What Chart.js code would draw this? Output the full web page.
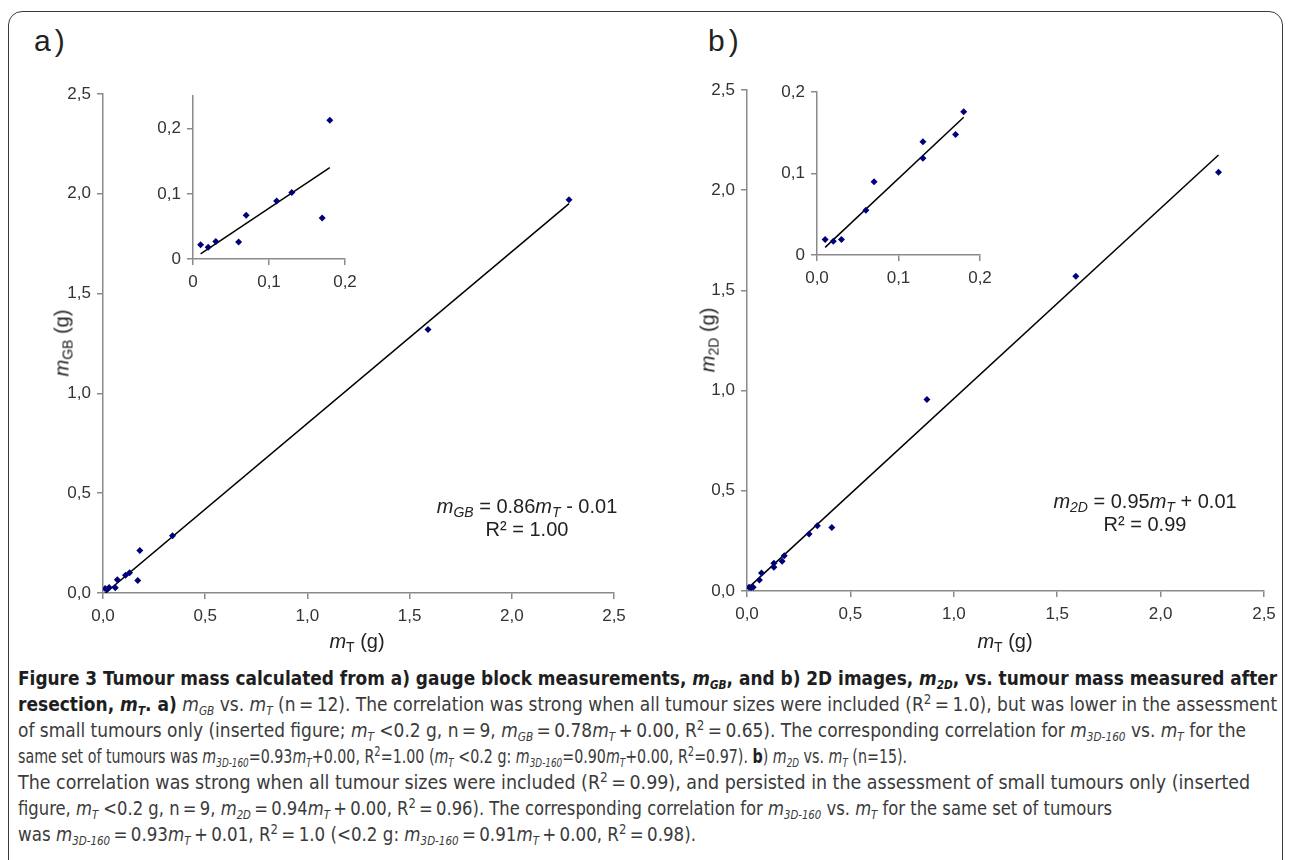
<!DOCTYPE html>
<html>
<head>
<meta charset="utf-8">
<script src="https://cdn.jsdelivr.net/npm/chart.js@4.4.1/dist/chart.umd.min.js"></script>
<style>
  body { margin: 0; width: 1290px; height: 860px; position: relative; overflow: hidden; background: #fff;
         font-family: 'Liberation Sans', Arial, sans-serif; }
  .frame { position: absolute; left: 8px; top: 11px; width: 1275px; height: 880px; box-sizing: border-box;
           border: 1.5px solid #3a3a3a; border-radius: 14px; }
  canvas { position: absolute; }
  .panel { position: absolute; font-size: 30px; color: #222; letter-spacing: 4px; }
  .xt, .yt { position: absolute; font-size: 20px; color: #222; white-space: nowrap; }
  .xt { transform: translate(-50%, -50%); }
  .yt { transform: translate(-50%, -50%) rotate(-90deg); }
  sub { font-size: 70%; vertical-align: -0.3em; line-height: 0; }
  sup { font-size: 70%; vertical-align: 0.5em; line-height: 0; }
  .eq { position: absolute; transform: translateX(-50%); text-align: center; font-size: 20px;
        line-height: 23px; color: #222; white-space: nowrap; }
  .cap { position: absolute; left: 18px; white-space: nowrap; transform-origin: 0 50%;
         font-family: 'Liberation Sans Narrow', 'DejaVu Sans Condensed', 'Liberation Sans', sans-serif;
         font-size: 20px; line-height: 26px; color: #3b3b3b; }
  .cap sub { font-size: 62%; }
  .cap b { color: #1e1e1e; }
</style>
</head>
<body>
<div class="frame"></div>

<div class="panel" style="left:34px; top:24px">a)</div>
<div class="panel" style="left:708px; top:24px">b)</div>

<canvas id="mainA" width="620" height="560" style="left:20px; top:70px"></canvas>
<canvas id="insetA" width="215" height="210" style="left:150px; top:80px"></canvas>
<canvas id="mainB" width="625" height="564" style="left:665px; top:66px"></canvas>
<canvas id="insetB" width="230" height="210" style="left:770px; top:76px"></canvas>

<div class="yt" style="left:62px; top:343px"><i>m</i><sub>GB</sub> (g)</div>
<div class="xt" style="left:357px; top:641px"><i>m</i><sub>T</sub> (g)</div>
<div class="yt" style="left:708px; top:340px"><i>m</i><sub>2D</sub> (g)</div>
<div class="xt" style="left:1005px; top:641px"><i>m</i><sub>T</sub> (g)</div>

<div class="eq" style="left:527px; top:495px">
  <div><i>m<sub>GB</sub></i> = 0.86<i>m<sub>T</sub></i> - 0.01</div>
  <div>R² = 1.00</div>
</div>
<div class="eq" style="left:1145px; top:490px">
  <div><i>m<sub>2D</sub></i> = 0.95<i>m<sub>T</sub></i> + 0.01</div>
  <div>R² = 0.99</div>
</div>

<div class="cap" data-w="1259" style="top:665px"><b>Figure 3 Tumour mass calculated from a) gauge block measurements, <i>m<sub>GB</sub></i>, and b) 2D images, <i>m<sub>2D</sub></i>, vs. tumour mass measured after</b></div>
<div class="cap" data-w="1259" style="top:691px"><b>resection, <i>m<sub>T</sub></i>. a)</b> <i>m<sub>GB</sub></i> vs. <i>m<sub>T</sub></i> (n&thinsp;=&thinsp;12). The correlation was strong when all tumour sizes were included (R<sup>2</sup>&thinsp;=&thinsp;1.0), but was lower in the assessment</div>
<div class="cap" data-w="1228" style="top:717px">of small tumours only (inserted figure; <i>m<sub>T</sub></i> &lt;0.2 g, n&thinsp;=&thinsp;9, <i>m<sub>GB</sub></i>&thinsp;=&thinsp;0.78<i>m<sub>T</sub></i>&thinsp;+&thinsp;0.00, R<sup>2</sup>&thinsp;=&thinsp;0.65). The corresponding correlation for <i>m<sub>3D-160</sub></i> vs. <i>m<sub>T</sub></i> for the</div>
<div class="cap" data-w="889" style="top:743px">same set of tumours was <i>m<sub>3D-160</sub></i>=0.93<i>m<sub>T</sub></i>+0.00, R<sup>2</sup>=1.00 (<i>m<sub>T</sub></i> &lt;0.2 g: <i>m<sub>3D-160</sub></i>=0.90<i>m<sub>T</sub></i>+0.00, R<sup>2</sup>=0.97). <b>b</b>) <i>m<sub>2D</sub></i> vs. <i>m<sub>T</sub></i> (n=15).</div>
<div class="cap" data-w="1232" style="top:769px">The correlation was strong when all tumour sizes were included (R<sup>2</sup>&thinsp;=&thinsp;0.99), and persisted in the assessment of small tumours only (inserted</div>
<div class="cap" data-w="1094" style="top:795px">figure, <i>m<sub>T</sub></i> &lt;0.2 g, n&thinsp;=&thinsp;9, <i>m<sub>2D</sub></i>&thinsp;=&thinsp;0.94<i>m<sub>T</sub></i>&thinsp;+&thinsp;0.00, R<sup>2</sup>&thinsp;=&thinsp;0.96). The corresponding correlation for <i>m<sub>3D-160</sub></i> vs. <i>m<sub>T</sub></i> for the same set of tumours</div>
<div class="cap" data-w="678" style="top:821px">was <i>m<sub>3D-160</sub></i>&thinsp;=&thinsp;0.93<i>m<sub>T</sub></i>&thinsp;+&thinsp;0.01, R<sup>2</sup>&thinsp;=&thinsp;1.0 (&lt;0.2 g: <i>m<sub>3D-160</sub></i>&thinsp;=&thinsp;0.91<i>m<sub>T</sub></i>&thinsp;+&thinsp;0.00, R<sup>2</sup>&thinsp;=&thinsp;0.98).</div>

<script>
// a) gauge block mass vs. measured tumour mass (n = 12), grams
const massA = [0.01, 0.02, 0.03, 0.06, 0.07, 0.11, 0.13, 0.17, 0.18, 0.34, 1.59, 2.28];
const gaugeBlock = [0.022, 0.018, 0.027, 0.026, 0.067, 0.089, 0.102, 0.063, 0.213, 0.287, 1.32, 1.97];

// b) 2D image mass vs. measured tumour mass (n = 15), grams
const massB = [0.01, 0.02, 0.03, 0.06, 0.07, 0.13, 0.13, 0.17, 0.18, 0.30, 0.34, 0.41, 0.87, 1.59, 2.28];
const image2D = [0.019, 0.017, 0.019, 0.055, 0.090, 0.119, 0.139, 0.148, 0.176, 0.285, 0.325, 0.317, 0.955, 1.57, 2.09];

// trend lines as printed (all tumours / small tumours < 0.2 g)
const fitA = { slope: 0.86, icpt: -0.01 };
const fitASmall = { slope: 0.78, icpt: 0.00 };
const fitB = { slope: 0.95, icpt: 0.01 };
const fitBSmall = { slope: 0.94, icpt: 0.00 };
const smallLimit = 0.2;

// axis ticks
const mainTicks = [0, 0.5, 1, 1.5, 2, 2.5];
const mainLabels = ['0,0', '0,5', '1,0', '1,5', '2,0', '2,5'];
const insetTicks = [0, 0.1, 0.2];
const insetLabels = ['0', '0,1', '0,2'];
const insetBxLabels = ['0,0', '0,1', '0,2'];

const navy = '#00007a';
const axisGrey = '#8a8a8a';
const tickFont = { family: "'Liberation Sans', Arial, sans-serif", size: 17 };

function toPoints(xs, ys, small) {
    return xs.map((x, i) => ({ x: x, y: ys[i] })).filter(p => !small || p.x < smallLimit);
}

// the fitted line runs over the range of the measured masses
function trendLine(points, fit) {
    const xs = points.map(p => p.x);
    const lo = Math.min(...xs), hi = Math.max(...xs);
    return [lo, hi].map(x => ({ x: x, y: fit.slope * x + fit.icpt }));
}

function axis(max, values, labels, size, horizontal) {
    return {
        type: 'linear',
        min: 0,
        max: max,
        border: { color: axisGrey, width: 1.5 },
        grid: { drawOnChartArea: false, drawTicks: true, tickLength: 6, color: axisGrey, lineWidth: 1.5 },
        ticks: {
            color: '#333',
            font: tickFont,
            padding: horizontal ? 7 : 6,
            autoSkip: false,
            maxRotation: 0,
            callback: (value, index) => labels[index]
        },
        afterBuildTicks: (scale) => { scale.ticks = values.map(v => ({ value: v })); },
        afterFit: (scale) => {
            if (horizontal) scale.height = size;
            else scale.width = size;
        }
    };
}

function scatterChart(id, points, fit, opts) {
    const ctx = document.getElementById(id).getContext('2d');
    return new Chart(ctx, {
        type: 'scatter',
        data: {
            datasets: [
                {
                    data: points,
                    pointStyle: 'rectRot',
                    pointRadius: 3.5,
                    backgroundColor: navy,
                    borderColor: navy,
                    borderWidth: 0
                },
                {
                    data: trendLine(points, fit),
                    showLine: true,
                    pointRadius: 0,
                    borderColor: '#000',
                    borderWidth: 1.5
                }
            ]
        },
        options: {
            responsive: false,
            animation: false,
            devicePixelRatio: 1,
            layout: { padding: opts.padding },
            plugins: { legend: { display: false }, tooltip: { enabled: false } },
            scales: {
                x: axis(opts.xMax, opts.xTicks, opts.xLabels, opts.xHeight, true),
                y: axis(opts.yMax, opts.yTicks, opts.yLabels, opts.yWidth, false)
            }
        }
    });
}

scatterChart('mainA', toPoints(massA, gaugeBlock, false), fitA, {
    padding: { top: 24, right: 26, left: 0, bottom: 0 },
    xMax: 2.5, xTicks: mainTicks, xLabels: mainLabels, xHeight: 37,
    yMax: 2.5, yTicks: mainTicks, yLabels: mainLabels, yWidth: 83
});
scatterChart('insetA', toPoints(massA, gaugeBlock, true), fitASmall, {
    padding: { top: 14, right: 20, left: 0, bottom: 0 },
    xMax: 0.2, xTicks: insetTicks, xLabels: insetLabels, xHeight: 31,
    yMax: 0.25, yTicks: insetTicks, yLabels: insetLabels, yWidth: 43
});
scatterChart('mainB', toPoints(massB, image2D, false), fitB, {
    padding: { top: 24, right: 26, left: 0, bottom: 0 },
    xMax: 2.5, xTicks: mainTicks, xLabels: mainLabels, xHeight: 39,
    yMax: 2.5, yTicks: mainTicks, yLabels: mainLabels, yWidth: 82
});
scatterChart('insetB', toPoints(massB, image2D, true), fitBSmall, {
    padding: { top: 15, right: 20, left: 0, bottom: 0 },
    xMax: 0.2, xTicks: insetTicks, xLabels: insetBxLabels, xHeight: 31,
    yMax: 0.2, yTicks: insetTicks, yLabels: insetLabels, yWidth: 47
});

// squeeze each caption line to the width it has in the figure
function fitCaption() {
    document.querySelectorAll('.cap').forEach(el => {
        const target = parseFloat(el.dataset.w);
        el.style.transform = 'scaleX(' + (target / el.offsetWidth) + ')';
    });
}
fitCaption();
</script>
</body>
</html>
